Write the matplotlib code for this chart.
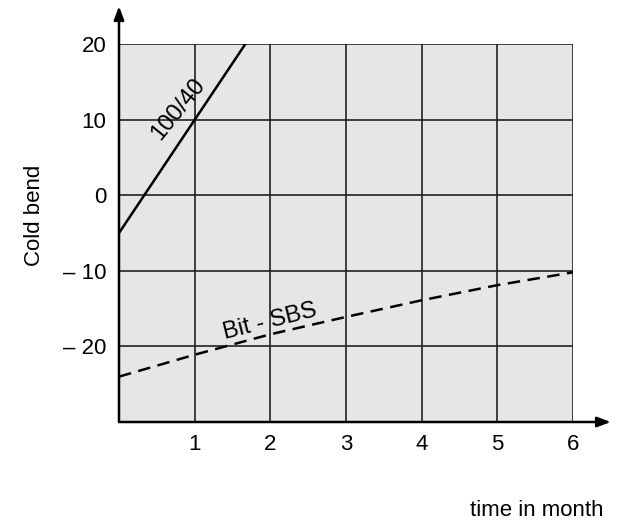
import matplotlib
matplotlib.use("Agg")
import matplotlib.pyplot as plt

# Data
months = [0, 1, 2, 3, 4, 5, 6]
bit_sbs = [-24, -21.1, -18.4, -16.1, -13.9, -11.9, -10.2]
pen_x = [0, 1.67]
pen_100_40 = [-5, 20]
x_ticks = [1, 2, 3, 4, 5, 6]
y_ticks = [20, 10, 0, -10, -20]
y_tick_labels = ["20", "10", "0", "\u2013 10", "\u2013 20"]

plt.rcParams['font.family'] = ['Liberation Sans', 'DejaVu Sans']

fig = plt.figure(figsize=(6.24, 5.2), dpi=100)
ax = fig.add_axes([119/624, 1-422/520, (573-119)/624, (422-44)/520])
ax.set_facecolor('#e6e6e6')
ax.set_xlim(0, 6)
ax.set_ylim(-30, 20)

for xv in range(1, 7):
    ax.axvline(xv, color='#222222', lw=1.2, zorder=1)
for yv in [-20, -10, 0, 10, 20]:
    ax.axhline(yv, color='#222222', lw=1.2, zorder=1)

ax.plot(pen_x, pen_100_40, color='black', lw=1.8, zorder=3)
ax.plot(months, bit_sbs, color='black', lw=1.8, ls=(0, (5, 3)), zorder=3)

ax.text(0.78, 11.4, "100/40", rotation=51, ha='center', va='center', fontsize=17, zorder=4)
ax.text(2.0, -16.7, "Bit - SBS", rotation=14, ha='center', va='center', fontsize=17, zorder=4)

for s in ax.spines.values():
    s.set_visible(False)
ax.tick_params(length=0, labelsize=16)
ax.tick_params(axis='x', pad=9)
ax.tick_params(axis='y', pad=9)
ax.set_xticks(x_ticks)
ax.set_xticklabels([str(t) for t in x_ticks])
ax.set_yticks(y_ticks)
ax.set_yticklabels(y_tick_labels)

# axes with arrows
ax.annotate("", xy=(6.5, -30), xytext=(0, -30), annotation_clip=False,
            arrowprops=dict(arrowstyle="-|>,head_length=0.8,head_width=0.3", color='black', lw=1.8,
                            shrinkA=0, shrinkB=0))
ax.annotate("", xy=(0, 25.0), xytext=(0, -30), annotation_clip=False,
            arrowprops=dict(arrowstyle="-|>,head_length=0.8,head_width=0.3", color='black', lw=1.8,
                            shrinkA=0, shrinkB=0))

fig.text(35/624, 1-215/520, "Cold bend", rotation=90, ha='center', va='center', fontsize=16)
fig.text(537/624, 1-510/520, "time in month", ha='center', va='center', fontsize=16)

fig.savefig("out.png", dpi=100)
